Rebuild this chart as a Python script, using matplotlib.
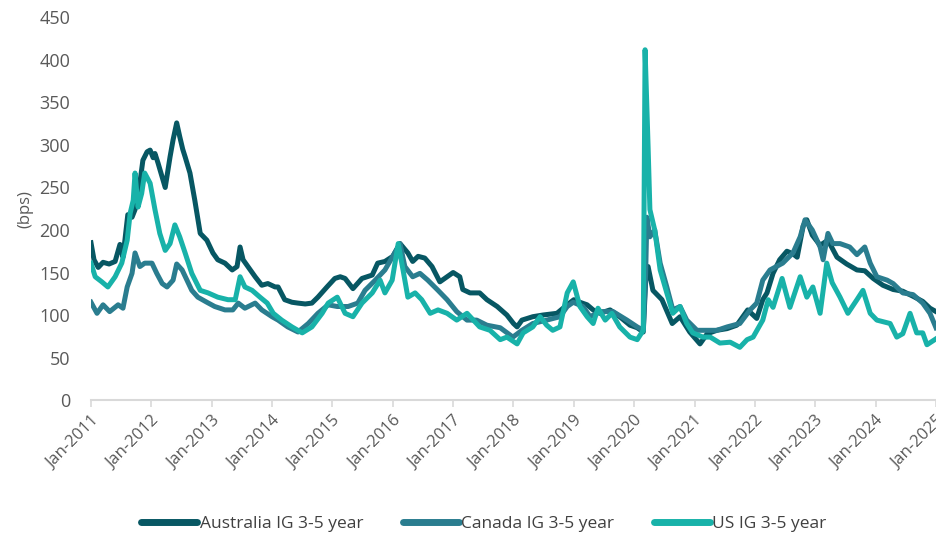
import matplotlib.pyplot as plt

# Credit spreads, investment grade 3-5 year, in bps (time as decimal years)
aus_t = [2011.00, 2011.05, 2011.12, 2011.20, 2011.30, 2011.40, 2011.48, 2011.53, 2011.61, 2011.68,
         2011.73, 2011.80, 2011.86, 2011.93, 2011.98, 2012.03, 2012.06, 2012.11, 2012.18, 2012.23,
         2012.31, 2012.36, 2012.42, 2012.47, 2012.52, 2012.56, 2012.64, 2012.72, 2012.81, 2012.92,
         2013.02, 2013.10, 2013.22, 2013.34, 2013.42, 2013.47, 2013.52, 2013.60, 2013.72, 2013.83,
         2013.93, 2014.05, 2014.10, 2014.21, 2014.33, 2014.43, 2014.55, 2014.66, 2014.76, 2014.91,
         2015.04, 2015.13, 2015.21, 2015.34, 2015.49, 2015.66, 2015.75, 2015.87, 2016.00, 2016.12,
         2016.25, 2016.33, 2016.42, 2016.53, 2016.65, 2016.78, 2016.90, 2017.00, 2017.11, 2017.16,
         2017.28, 2017.44, 2017.56, 2017.73, 2017.89, 2018.00, 2018.06, 2018.14, 2018.32, 2018.49,
         2018.72, 2018.89, 2019.00, 2019.10, 2019.22, 2019.32, 2019.43, 2019.60, 2019.76, 2019.93,
         2020.05, 2020.15, 2020.19, 2020.23, 2020.31, 2020.46, 2020.63, 2020.76, 2020.92, 2021.09,
         2021.21, 2021.37, 2021.54, 2021.70, 2021.80, 2021.88, 2022.03, 2022.13, 2022.20, 2022.30,
         2022.41, 2022.53, 2022.63, 2022.70, 2022.80, 2022.86, 2022.95, 2023.08, 2023.21, 2023.36,
         2023.52, 2023.69, 2023.82, 2023.96, 2024.12, 2024.29, 2024.45, 2024.62, 2024.78, 2024.90,
         2025.00]
aus_v = [185, 165, 156, 162, 160, 163, 183, 168, 218, 215,
         224, 250, 282, 292, 294, 285, 290, 279, 262, 250,
         286, 306, 326, 310, 295, 286, 267, 235, 196, 188,
         173, 165, 161, 153, 157, 180, 165, 157, 145, 135,
         137, 133, 133, 118, 115, 114, 113, 114, 121, 133,
         143, 145, 143, 131, 143, 147, 161, 163, 169, 184,
         173, 163, 169, 167, 157, 139, 145, 150, 145, 130,
         126, 126, 118, 110, 100, 90, 86, 94, 98, 100,
         102, 112, 118, 115, 112, 106, 102, 106, 98, 88,
         85, 80, 140, 157, 129, 118, 90, 98, 80, 66,
         78, 82, 84, 88, 98, 106, 96, 118, 126, 149,
         165, 175, 172, 168, 205, 212, 194, 182, 188, 168,
         160, 153, 152, 143, 135, 130, 128, 122, 116, 108,
         104]

can_t = [2011.00, 2011.10, 2011.20, 2011.31, 2011.45, 2011.53, 2011.60, 2011.68, 2011.73, 2011.81,
         2011.89, 2012.01, 2012.09, 2012.18, 2012.26, 2012.36, 2012.42, 2012.51, 2012.59, 2012.67,
         2012.77, 2012.92, 2013.05, 2013.22, 2013.35, 2013.44, 2013.55, 2013.72, 2013.83, 2014.00,
         2014.10, 2014.26, 2014.43, 2014.60, 2014.76, 2014.93, 2015.08, 2015.26, 2015.42, 2015.54,
         2015.71, 2015.87, 2016.00, 2016.12, 2016.20, 2016.33, 2016.45, 2016.58, 2016.75, 2016.90,
         2017.06, 2017.23, 2017.39, 2017.56, 2017.78, 2017.99, 2018.14, 2018.32, 2018.55, 2018.77,
         2018.89, 2018.99, 2019.15, 2019.27, 2019.43, 2019.65, 2019.88, 2020.05, 2020.15, 2020.19,
         2020.21, 2020.26, 2020.34, 2020.43, 2020.54, 2020.64, 2020.76, 2020.87, 2021.04, 2021.21,
         2021.37, 2021.54, 2021.75, 2021.92, 2022.03, 2022.13, 2022.25, 2022.46, 2022.63, 2022.75,
         2022.83, 2022.95, 2023.08, 2023.13, 2023.21, 2023.29, 2023.41, 2023.57, 2023.69, 2023.82,
         2023.91, 2024.02, 2024.19, 2024.29, 2024.45, 2024.62, 2024.78, 2024.90, 2025.00]
can_v = [115, 102, 112, 104, 112, 108, 133, 149, 173, 157,
         161, 161, 149, 137, 133, 141, 160, 153, 141, 129,
         121, 115, 110, 106, 106, 114, 108, 114, 106, 98,
         94, 86, 80, 90, 102, 112, 110, 110, 114, 129,
         141, 153, 169, 184, 157, 145, 149, 141, 129, 118,
         104, 94, 94, 88, 85, 74, 82, 90, 94, 98,
         110, 115, 110, 98, 104, 104, 94, 86, 82, 150,
         215, 192, 200, 161, 133, 106, 110, 94, 82, 82,
         82, 86, 90, 106, 114, 141, 153, 161, 173, 192,
         212, 200, 180, 165, 196, 184, 184, 180, 171, 180,
         161, 145, 141, 137, 126, 124, 114, 102, 85]

us_t = [2011.00, 2011.07, 2011.18, 2011.28, 2011.40, 2011.51, 2011.60, 2011.65, 2011.70, 2011.73,
        2011.78, 2011.84, 2011.89, 2011.98, 2012.06, 2012.14, 2012.23, 2012.31, 2012.39, 2012.47,
        2012.56, 2012.67, 2012.81, 2012.94, 2013.10, 2013.27, 2013.39, 2013.47, 2013.55, 2013.67,
        2013.80, 2013.92, 2014.02, 2014.16, 2014.33, 2014.50, 2014.66, 2014.83, 2014.93, 2015.08,
        2015.21, 2015.34, 2015.49, 2015.66, 2015.79, 2015.87, 2015.99, 2016.09, 2016.17, 2016.25,
        2016.37, 2016.48, 2016.62, 2016.75, 2016.90, 2017.06, 2017.23, 2017.44, 2017.61, 2017.78,
        2017.89, 2018.06, 2018.16, 2018.32, 2018.44, 2018.55, 2018.65, 2018.77, 2018.89, 2018.99,
        2019.10, 2019.22, 2019.32, 2019.40, 2019.52, 2019.63, 2019.76, 2019.93, 2020.05, 2020.15,
        2020.18, 2020.23, 2020.26, 2020.34, 2020.43, 2020.54, 2020.64, 2020.76, 2020.87, 2020.97,
        2021.14, 2021.26, 2021.42, 2021.59, 2021.75, 2021.87, 2021.97, 2022.13, 2022.22, 2022.30,
        2022.45, 2022.58, 2022.75, 2022.86, 2022.96, 2023.08, 2023.19, 2023.28, 2023.41, 2023.54,
        2023.69, 2023.79, 2023.91, 2024.02, 2024.24, 2024.35, 2024.45, 2024.57, 2024.68, 2024.78,
        2024.85, 2025.00]
us_v = [161, 145, 139, 133, 145, 161, 188, 220, 235, 267,
        227, 243, 267, 255, 224, 196, 176, 184, 206, 192,
        173, 149, 129, 126, 121, 118, 118, 145, 133, 129,
        121, 114, 102, 94, 86, 79, 86, 102, 114, 121,
        102, 98, 114, 126, 141, 126, 141, 184, 153, 121,
        126, 118, 102, 106, 102, 94, 102, 86, 82, 71,
        74, 66, 79, 86, 98, 88, 82, 86, 126, 139,
        110, 98, 90, 108, 94, 102, 86, 74, 71, 82,
        412, 298, 224, 200, 153, 126, 102, 110, 90, 79,
        74, 74, 67, 68, 62, 71, 74, 94, 118, 109,
        143, 109, 145, 121, 133, 102, 161, 138, 121, 102,
        118, 129, 102, 94, 90, 74, 78, 102, 79, 79,
        65, 72]

years = list(range(2011, 2026))
year_labels = [f"Jan-{y}" for y in years]

fig = plt.figure(figsize=(9.36, 5.41), dpi=100)
ax = fig.add_axes([0.0972, 0.2606, 0.9028, 0.7071])
plt.rcParams['font.family'] = ['Open Sans', 'DejaVu Sans']

ax.plot(aus_t, aus_v, color='#075763', lw=3.6, label='Australia IG 3-5 year', solid_joinstyle='round')
ax.plot(can_t, can_v, color='#2a7d8f', lw=3.6, label='Canada IG 3-5 year', solid_joinstyle='round')
ax.plot(us_t, us_v, color='#18b2a9', lw=3.6, label='US IG 3-5 year', solid_joinstyle='round')

ax.set_xlim(2011, 2025)
ax.set_ylim(0, 450)
ax.set_yticks(range(0, 451, 50))
ax.set_xticks(years)
ax.set_xticklabels(year_labels, rotation=45, ha='right', rotation_mode='anchor',
                   fontsize=12, color='#595959', family='Open Sans')
for lab in ax.get_yticklabels():
    lab.set_fontsize(13)
    lab.set_color('#595959')
    lab.set_family('Open Sans')
ax.set_ylabel('(bps)', fontsize=12, color='#595959', family='Open Sans', labelpad=4)

for side in ['top', 'right', 'left']:
    ax.spines[side].set_visible(False)
ax.spines['bottom'].set_color('#d9d9d9')
ax.spines['bottom'].set_linewidth(1.5)
ax.tick_params(axis='y', length=0, pad=15)
ax.tick_params(axis='x', length=5, width=1.2, color='#d9d9d9', pad=4)

leg = ax.legend(loc='center', bbox_to_anchor=(0.517, 0.031), bbox_transform=fig.transFigure,
                ncol=3, frameon=False, handlelength=3.2, handletextpad=0.15, columnspacing=2.3,
                prop={'family': 'Open Sans', 'size': 12.5})
for line in leg.get_lines():
    line.set_linewidth(5)
    line.set_solid_capstyle('round')
for txt in leg.get_texts():
    txt.set_color('#404040')

fig.savefig('out.png', dpi=100)
